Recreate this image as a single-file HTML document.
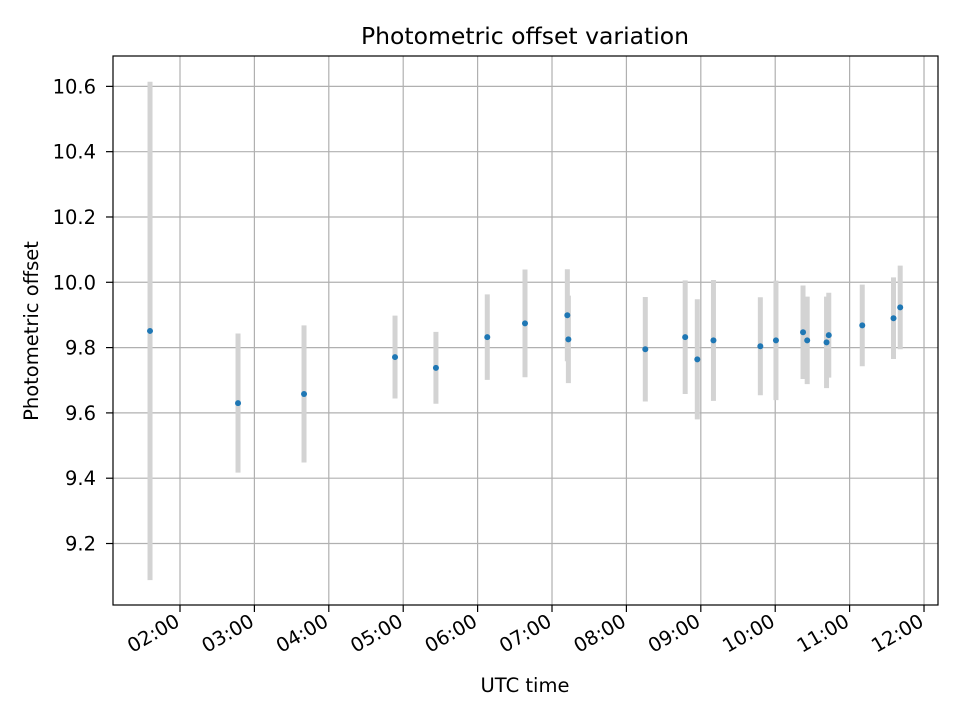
<!DOCTYPE html>
<html><head><meta charset="utf-8"><style>
body{margin:0;background:#fff;font-family:"Liberation Sans","DejaVu Sans",sans-serif}
svg text{font-family:"DejaVu Sans","Liberation Sans",sans-serif;fill:#000}
</style></head><body>
<svg id="chart" width="960" height="720" xmlns="http://www.w3.org/2000/svg">
<rect width="960" height="720" fill="#fff"/>
<g id="grid"></g>
<g id="bars"></g>
<g id="pts"></g>
<g id="axes"></g>
<text x="525" y="44" font-size="23.5" text-anchor="middle">Photometric offset variation</text>
<text x="525" y="692" font-size="19.5" text-anchor="middle">UTC time</text>
<text transform="translate(38,331) rotate(-90)" font-size="19.5" text-anchor="middle">Photometric offset</text>
</svg>
<script>
const times=[1.597,2.78,3.667,4.89,5.44,6.13,6.637,7.206,7.22,8.254,8.79,8.953,9.17,9.80,10.01,10.374,10.43,10.69,10.72,11.17,11.59,11.68];
const offsets=[9.851,9.630,9.658,9.771,9.738,9.832,9.874,9.899,9.825,9.795,9.832,9.764,9.822,9.804,9.822,9.847,9.822,9.816,9.838,9.868,9.890,9.923];
const errors=[0.763,0.213,0.21,0.127,0.11,0.131,0.165,0.141,0.134,0.160,0.174,0.184,0.185,0.15,0.183,0.143,0.134,0.14,0.13,0.125,0.125,0.128];
const yTicks=[9.2,9.4,9.6,9.8,10.0,10.2,10.4,10.6];
const xTicks=[2,3,4,5,6,7,8,9,10,11,12];
const xTickLabels=["02:00","03:00","04:00","05:00","06:00","07:00","08:00","09:00","10:00","11:00","12:00"];
const L=113,R=938,T=56,B=605;
const xMin=1.0995,xMax=12.188,yMin=9.0117,yMax=10.693;
const X=h=>L+(h-xMin)/(xMax-xMin)*(R-L);
const Y=v=>B-(v-yMin)/(yMax-yMin)*(B-T);
const NS="http://www.w3.org/2000/svg";
function mk(tag,attrs,parent){const e=document.createElementNS(NS,tag);for(const k in attrs)e.setAttribute(k,attrs[k]);parent.appendChild(e);return e;}
const grid=document.getElementById('grid'),axes=document.getElementById('axes');
yTicks.forEach(v=>{
 const y=Y(v);
 const g=mk('line',{x1:L,x2:R,y1:y,y2:y,stroke:'#b0b0b0','stroke-width':1.2},grid);
 
 
 const t=mk('line',{x1:L-7,x2:L,y1:y,y2:y,stroke:'#000','stroke-width':1.2},axes);
 
 
 const l=mk('text',{x:L-17,y:y+7,'font-size':19.5,'text-anchor':'end'},axes);
 l.textContent=v.toFixed(1);
 
 
});
xTicks.forEach((h,i)=>{
 const x=X(h);
 const g=mk('line',{x1:x,x2:x,y1:T,y2:B,stroke:'#b0b0b0','stroke-width':1.2},grid);
 
 
 const t=mk('line',{x1:x,x2:x,y1:B,y2:B+7,stroke:'#000','stroke-width':1.2},axes);
 
 
 const l=mk('text',{transform:`translate(${x+1},${B+20}) rotate(-30)`,'font-size':19.5,'text-anchor':'end'},axes);
 l.textContent=xTickLabels[i];
 
 
});
const frame=mk('rect',{x:L,y:T,width:R-L,height:B-T,fill:'none',stroke:'#000','stroke-width':1.2},axes);


const bars=document.getElementById('bars'),pts=document.getElementById('pts');
times.forEach((h,i)=>{
 const x=X(h);
 const b=mk('line',{x1:x,x2:x,y1:Y(offsets[i]+errors[i]),y2:Y(offsets[i]-errors[i]),stroke:'#d3d3d3','stroke-width':5},bars);
 
 
 const c=mk('circle',{cx:x,cy:Y(offsets[i]),r:3,fill:'#1f77b4'},pts);
 
 
});
</script>
</body></html>
